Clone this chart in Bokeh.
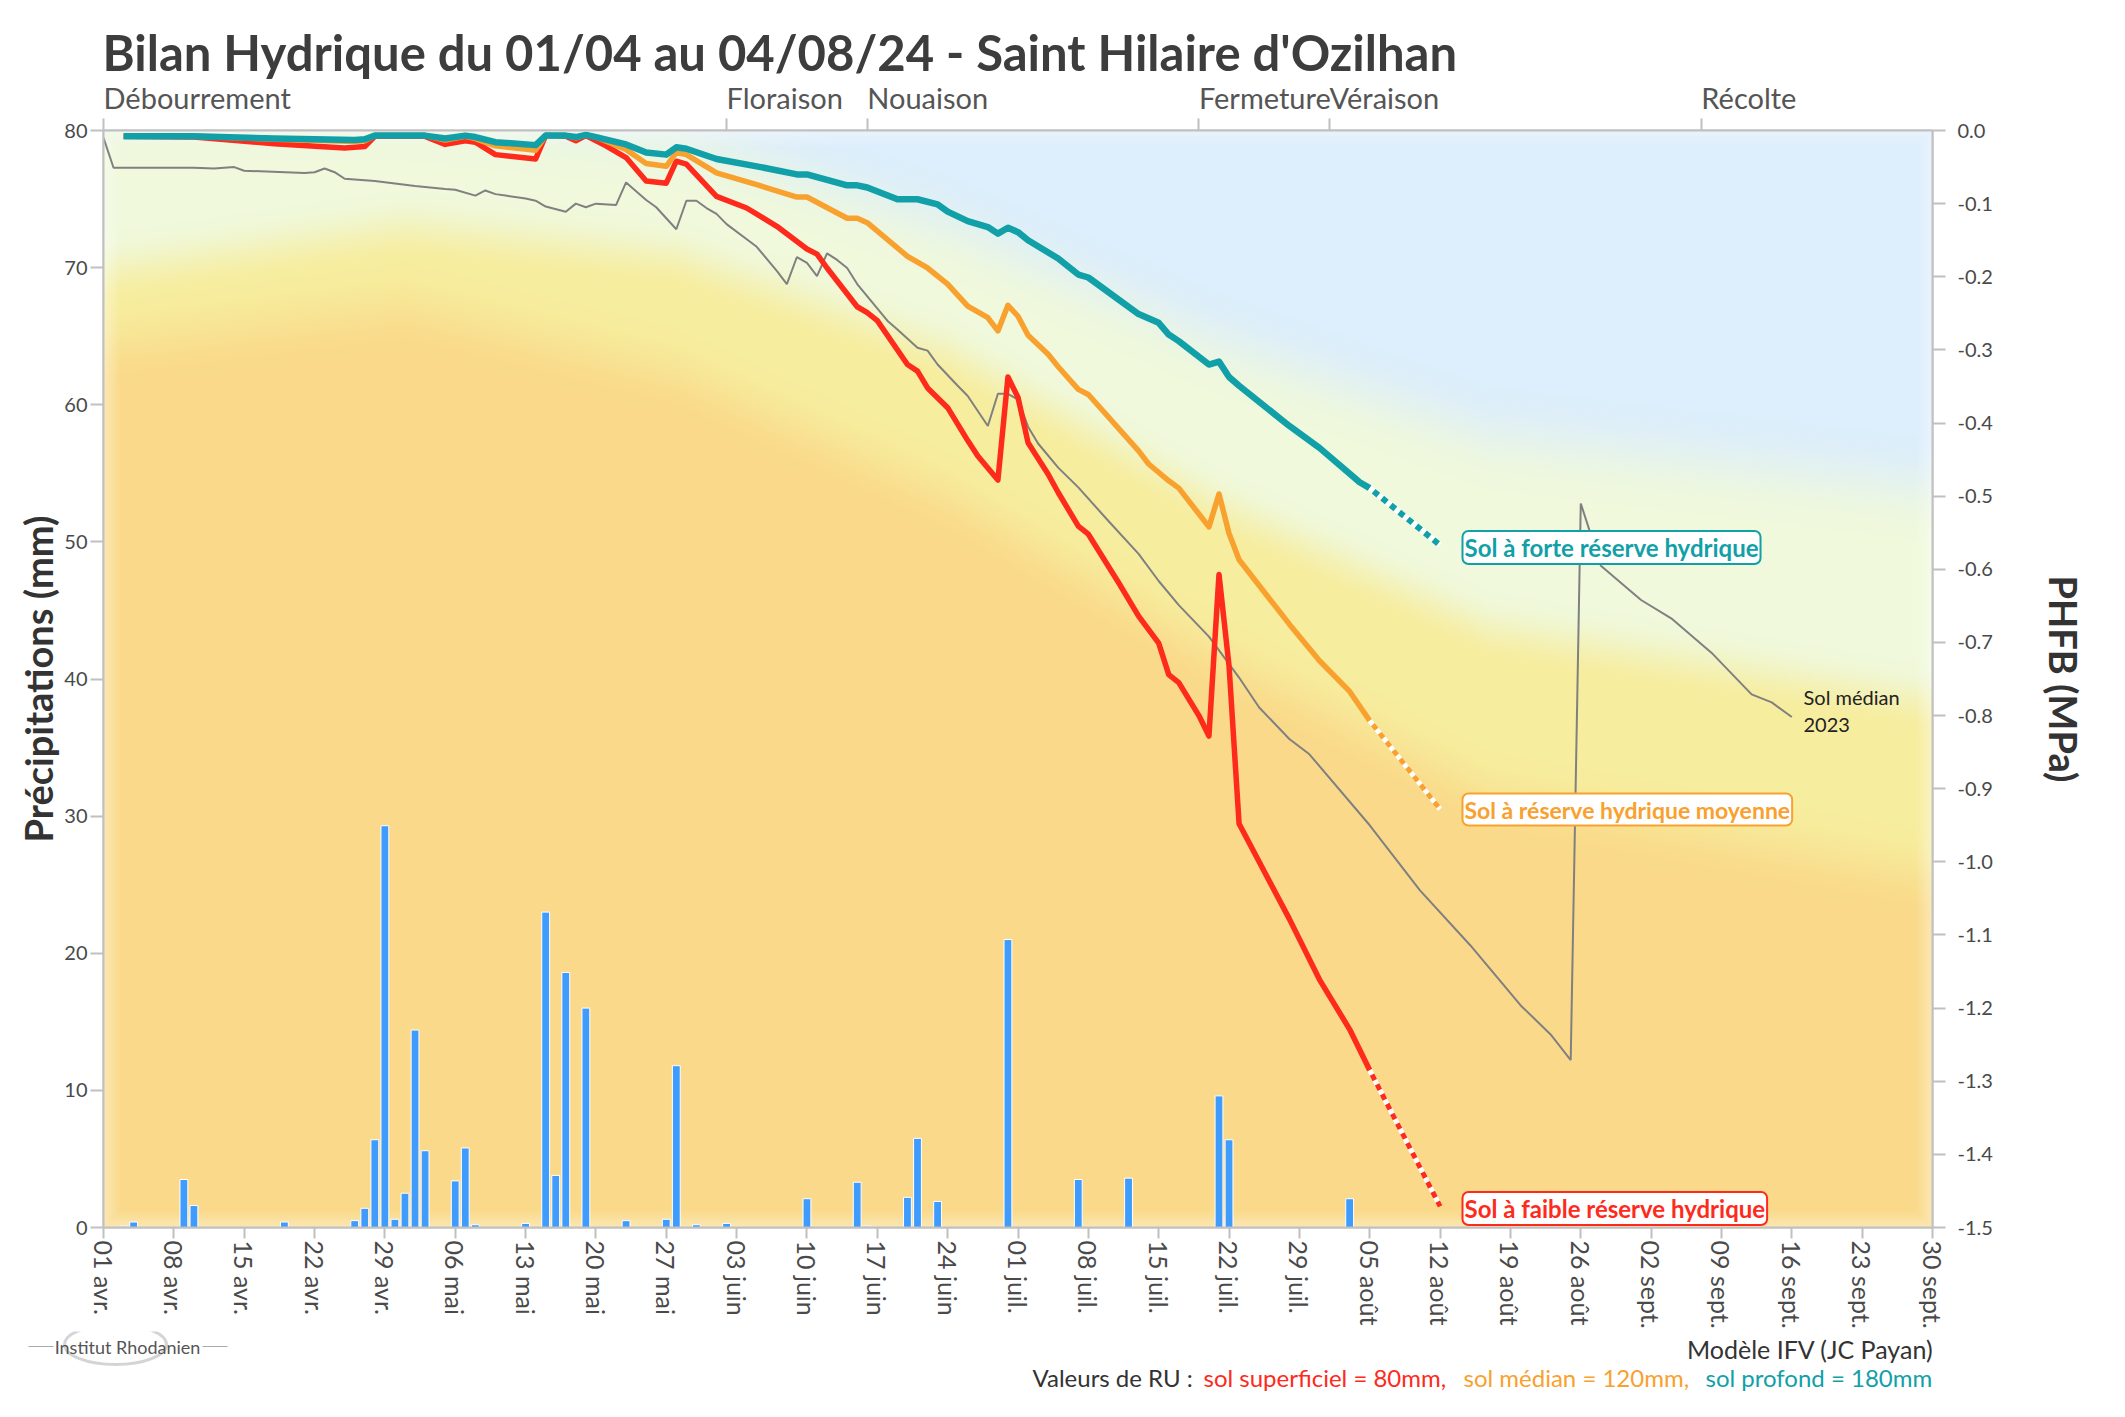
import numpy as np
from bokeh.plotting import figure
from bokeh.layouts import column
from bokeh.core.properties import value
from bokeh.models import (Range1d, LinearAxis, FixedTicker, PrintfTickFormatter, Label)
from bokeh.embed import file_html
from bokeh.resources import INLINE

# days are counted from 1 April 2024 (day 0)
tick_days = list(range(0, 183, 7))
tick_labels = ["01 avr.", "08 avr.", "15 avr.", "22 avr.", "29 avr.", "06 mai", "13 mai",
               "20 mai", "27 mai", "03 juin", "10 juin", "17 juin", "24 juin", "01 juil.",
               "08 juil.", "15 juil.", "22 juil.", "29 juil.", "05 août", "12 août",
               "19 août", "26 août", "02 sept.", "09 sept.", "16 sept.", "23 sept.", "30 sept."]

phase_names = ["Débourrement", "Floraison", "Nouaison", "Fermeture", "Véraison", "Récolte"]
phase_days = [0, 62, 76, 109, 122, 159]

# daily rain (mm)
rain_day = [2, 3, 8, 9, 18, 25, 26, 27, 28, 29, 30, 31, 32, 35, 36, 37, 42, 44, 45, 46,
            48, 52, 56, 57, 59, 62, 70, 75, 76, 80, 81, 83, 90, 97, 102, 111, 112, 124]
rain_mm = [0.1, 0.4, 3.5, 1.6, 0.4, 0.5, 1.4, 6.4, 29.3, 0.6, 2.5, 14.4, 5.6, 3.4, 5.8, 0.2,
           0.3, 23.0, 3.8, 18.6, 16.0, 0.5, 0.6, 11.8, 0.2, 0.3, 2.1, 3.3, 0.1, 2.2, 6.5,
           1.9, 21.0, 3.5, 3.6, 9.6, 6.4, 2.1]

# PHFB (MPa) - sol profond (180 mm)
forte_day = [2, 9, 17, 25, 26, 27, 32, 34, 36, 37, 39, 43, 44, 46, 47, 48, 49, 52, 54, 56,
             57, 58, 61, 65, 69, 70, 74, 75, 76, 79, 81, 83, 84, 86, 88, 89, 90, 91, 92, 95,
             97, 98, 103, 105, 106, 107, 110, 111, 112, 113, 118, 121, 125, 126]
forte_val = [-0.008, -0.008, -0.011, -0.013, -0.012, -0.007, -0.007, -0.011, -0.007, -0.009,
             -0.016, -0.020, -0.007, -0.007, -0.009, -0.006, -0.009, -0.019, -0.030, -0.033,
             -0.023, -0.025, -0.039, -0.049, -0.060, -0.060, -0.075, -0.075, -0.078, -0.094,
             -0.094, -0.101, -0.111, -0.124, -0.132, -0.141, -0.133, -0.139, -0.150, -0.175,
             -0.197, -0.201, -0.251, -0.263, -0.279, -0.288, -0.320, -0.316, -0.337, -0.349,
             -0.404, -0.434, -0.481, -0.489]
forte_forecast = -0.567

# sol médian (120 mm)
moy_day = [2, 9, 17, 25, 26, 27, 32, 34, 36, 37, 39, 43, 44, 46, 47, 48, 49, 52, 54, 56,
           57, 58, 61, 65, 69, 70, 74, 75, 76, 80, 82, 84, 86, 88, 89, 90, 91, 92, 94, 95,
           97, 98, 103, 104, 106, 107, 110, 111, 112, 113, 118, 121, 124, 126]
moy_val = [-0.008, -0.008, -0.012, -0.015, -0.014, -0.007, -0.007, -0.013, -0.008, -0.011,
           -0.021, -0.027, -0.007, -0.007, -0.010, -0.006, -0.009, -0.026, -0.045, -0.049,
           -0.030, -0.033, -0.058, -0.074, -0.091, -0.091, -0.120, -0.120, -0.126, -0.172,
           -0.188, -0.210, -0.240, -0.256, -0.274, -0.239, -0.254, -0.280, -0.306, -0.323,
           -0.354, -0.361, -0.438, -0.456, -0.479, -0.489, -0.542, -0.497, -0.551, -0.587,
           -0.675, -0.725, -0.767, -0.807]
moy_forecast = -0.928

# sol superficiel (80 mm)
faible_day = [2, 9, 17, 24, 26, 27, 32, 34, 36, 37, 39, 43, 44, 46, 47, 48, 50, 52, 54, 56,
              57, 58, 61, 64, 67, 70, 71, 72, 75, 76, 77, 80, 81, 82, 84, 86, 87, 89, 90, 91,
              92, 94, 95, 97, 98, 101, 103, 105, 106, 107, 109, 110, 111, 112, 113, 118, 121,
              124, 126]
faible_val = [-0.008, -0.009, -0.018, -0.024, -0.022, -0.008, -0.008, -0.019, -0.014, -0.016,
              -0.033, -0.039, -0.007, -0.008, -0.014, -0.007, -0.021, -0.037, -0.069, -0.072,
              -0.042, -0.046, -0.090, -0.106, -0.131, -0.162, -0.169, -0.188, -0.241, -0.249,
              -0.260, -0.320, -0.329, -0.352, -0.379, -0.424, -0.445, -0.478, -0.337, -0.365,
              -0.427, -0.470, -0.495, -0.541, -0.552, -0.618, -0.664, -0.701, -0.744, -0.755,
              -0.800, -0.828, -0.607, -0.732, -0.948, -1.078, -1.161, -1.229, -1.285]
faible_forecast = -1.471
forecast_day = 133

# sol médian, campagne 2023
median_day = [0, 1, 9, 11, 13, 14, 20, 21, 22, 23, 24, 27, 31, 34, 35, 37, 38, 39, 40, 42,
              43, 44, 46, 47, 48, 49, 51, 52, 54, 55, 57, 58, 59, 60, 61, 62, 65, 67, 68, 69,
              70, 71, 72, 73, 74, 75, 78, 79, 81, 82, 83, 85, 86, 88, 89, 90, 91, 92, 93, 95,
              97, 100, 103, 105, 107, 110, 113, 115, 118, 120, 126, 131, 136, 141, 144, 146,
              147, 149, 153, 156, 160, 164, 166, 168]
median_val = [-0.010, -0.051, -0.051, -0.052, -0.050, -0.055, -0.058, -0.057, -0.052, -0.057,
              -0.066, -0.069, -0.076, -0.080, -0.081, -0.089, -0.082, -0.087, -0.089, -0.093,
              -0.096, -0.104, -0.111, -0.100, -0.105, -0.100, -0.102, -0.071, -0.095, -0.105,
              -0.135, -0.096, -0.096, -0.106, -0.114, -0.128, -0.159, -0.192, -0.210, -0.173,
              -0.181, -0.199, -0.168, -0.177, -0.188, -0.210, -0.260, -0.272, -0.297, -0.301,
              -0.320, -0.349, -0.363, -0.404, -0.360, -0.360, -0.368, -0.405, -0.428, -0.461,
              -0.488, -0.534, -0.579, -0.616, -0.649, -0.692, -0.748, -0.789, -0.832, -0.853,
              -0.950, -1.039, -1.114, -1.196, -1.236, -1.271, -0.510, -0.595, -0.642, -0.667,
              -0.714, -0.771, -0.782, -0.802]

# stress zones in the background (upper PHFB limit of each zone, by date)
zone_day = [0, 30, 57, 84, 111, 138, 182]
zone_green = [0.03, 0.03, -0.01, -0.13, -0.29, -0.42, -0.49]
zone_yellow = [-0.19, -0.13, -0.17, -0.30, -0.51, -0.68, -0.78]
zone_orange = [-0.29, -0.24, -0.33, -0.50, -0.72, -0.91, -1.02]

TITLE = "Bilan Hydrique du 01/04 au 04/08/24 - Saint Hilaire d'Ozilhan"
TEAL = "#12a0a8"
ORANGE = "#f9a12e"
RED = "#fe2a1c"
FONT = "Lato"

W = 2117
FW, FH = 1829, 1097
LEFT = 103
HEAD_H = 116
TOP = 14
BOTTOM = 104
FOOT_H = 86


def background(nx=915, ny=549):
    days = np.linspace(0, 182, nx)
    v = np.linspace(-1.5, 0, ny)[:, None]
    cols = [np.array(c, float) for c in [(221, 238, 252), (240, 249, 220),
                                         (247, 237, 158), (250, 218, 138)]]

    def ramp(limit, w):
        b = np.interp(days, zone_day, limit)[None, :]
        t = np.clip(0.5 + (b - v) / w, 0, 1)
        return (t * t * (3 - 2 * t))[..., None]

    rgb = np.ones((ny, nx, 3)) * cols[0]
    rgb = rgb + (cols[1] - rgb) * ramp(zone_green, 0.14)
    rgb = rgb + (cols[2] - rgb) * ramp(zone_yellow, 0.10)
    rgb = rgb + (cols[3] - rgb) * ramp(zone_orange, 0.12)
    # soft fade near the frame edges
    ex = np.minimum(np.arange(nx), np.arange(nx)[::-1]) / 8.0
    ey = np.minimum(np.arange(ny), np.arange(ny)[::-1]) / 8.0
    edge = np.clip(np.minimum(ex[None, :], ey[:, None]), 0, 1)[..., None]
    rgb = rgb + (255 - rgb) * 0.35 * (1 - edge)
    img = np.empty((ny, nx), dtype=np.uint32)
    view = img.view(dtype=np.uint8).reshape((ny, nx, 4))
    view[:, :, :3] = np.clip(rgb, 0, 255).astype(np.uint8)
    view[:, :, 3] = 255
    return img


def strip(height):
    f = figure(width=W, height=height, x_range=Range1d(0, W), y_range=Range1d(height, 0),
               output_backend="svg", toolbar_location=None, min_border=0,
               x_axis_type=None, y_axis_type=None, outline_line_color=None,
               frame_align=False)
    f.grid.visible = False
    return f


# header: title and phenological stages
head = strip(HEAD_H)
head.text(x=[LEFT - 1], y=[51], text=[TITLE], text_font=value(FONT), text_font_style="bold",
          text_font_size="49px", text_color="#3d3d3d", text_baseline="middle")
head.text(x=[LEFT + d * FW / 182 for d in phase_days], y=[97] * len(phase_days),
          text=phase_names, text_font=value(FONT), text_font_size="29px",
          text_color="#555555", text_baseline="middle")

# main chart
p = figure(frame_width=FW, frame_height=FH, x_range=Range1d(0, 182), y_range=Range1d(0, 80),
           output_backend="svg", toolbar_location=None, frame_align=False,
           min_border_left=LEFT, min_border_right=W - LEFT - FW, min_border_top=TOP,
           min_border_bottom=BOTTOM, background_fill_color="white", border_fill_color="white")
p.extra_y_ranges = {"phfb": Range1d(-1.5, 0), "py": Range1d(FH, 0)}
p.extra_x_ranges = {"px": Range1d(0, FW)}
p.grid.visible = False
p.outline_line_color = "#c4c4c4"
p.outline_line_width = 2

p.image_rgba(image=[background()], x=0, y=0, dw=182, dh=80, level="image")

p.vbar(x=rain_day, top=rain_mm, width=0.78, fill_color="#3f9cfd", line_color="white",
       line_width=1)

p.line(median_day, median_val, y_range_name="phfb", color="#808080", line_width=2)

for days, vals, fc, col, w in [(faible_day, faible_val, faible_forecast, RED, 5.5),
                               (moy_day, moy_val, moy_forecast, ORANGE, 5.5),
                               (forte_day, forte_val, forte_forecast, TEAL, 6.5)]:
    p.line(days, vals, y_range_name="phfb", color=col, line_width=w, line_join="round")
    p.line([days[-1], forecast_day], [vals[-1], fc], y_range_name="phfb", color="white",
           line_width=w - 0.5)
    p.line([days[-1], forecast_day], [vals[-1], fc], y_range_name="phfb", color=col,
           line_width=w - 0.5, line_dash="6 5", line_dash_offset=6)

xa = p.xaxis[0]
xa.ticker = FixedTicker(ticks=tick_days)
xa.major_label_overrides = {d: t for d, t in zip(tick_days, tick_labels)}
xa.major_label_orientation = "vertical"

ya = p.yaxis[0]
ya.ticker = FixedTicker(ticks=list(range(0, 81, 10)))
ya.axis_label = "Précipitations (mm)"

ra = LinearAxis(y_range_name="phfb", ticker=FixedTicker(ticks=[-i / 10 for i in range(16)]),
                formatter=PrintfTickFormatter(format="%.1f"), axis_label="PHFB (MPa)")
p.add_layout(ra, "right")

ta = LinearAxis(ticker=FixedTicker(ticks=phase_days), major_label_text_alpha=0)
p.add_layout(ta, "above")

for ax in [xa, ya, ra, ta]:
    ax.axis_line_color = "#c0c0c0"
    ax.axis_line_width = 2
    ax.major_tick_line_color = "#c0c0c0"
    ax.major_tick_line_width = 2
    ax.major_tick_in = 0
    ax.major_tick_out = 13
    ax.minor_tick_line_color = None
    ax.major_label_text_font = FONT
    ax.major_label_text_font_size = "20px"
    ax.major_label_text_color = "#4a4a4a"
    ax.axis_label_text_font = FONT
    ax.axis_label_text_font_size = "38px"
    ax.axis_label_text_font_style = "bold"
    ax.axis_label_text_color = "#333333"
ta.major_label_text_font_size = "1px"
ta.major_label_standoff = 0
ta.major_tick_out = 12
xa.major_tick_out = 11
xa.major_label_text_font_size = "25px"
xa.major_label_standoff = 2
ya.major_label_standoff = 3
ya.axis_label_standoff = 0
ra.major_label_standoff = 12
ra.axis_label_standoff = 45


def px_label(text, x, y, size, color, style="normal", **kw):
    p.add_layout(Label(x=x, y=y, x_range_name="px", y_range_name="py", text=text,
                       text_font=FONT, text_font_size=size, text_color=color,
                       text_font_style=style, text_baseline="middle", **kw))


for text, y, col, size in [("Sol à forte réserve hydrique", 417, TEAL, "24px"),
                           ("Sol à réserve hydrique moyenne", 679, ORANGE, "23px"),
                           ("Sol à faible réserve hydrique", 1078, RED, "24px")]:
    px_label(text, 1359, y, size, col, style="bold", background_fill_color="white",
             border_line_color=col, border_line_width=2, padding=2, border_radius=6)

px_label("Sol médian", 1700, 566, "20px", "#222222")
px_label("2023", 1700, 594, "20px", "#222222")

# footer: model credit, RU values, logo
foot = strip(FOOT_H)
foot.text(x=[1933], y=[17], text=["Modèle IFV (JC Payan)"], text_font=value(FONT),
          text_font_size="25px", text_color="#333333", text_align="right",
          text_baseline="middle")
foot.text(x=[1032, 1203, 1463, 1705], y=[46] * 4,
          text=["Valeurs de RU :", "sol superficiel = 80mm,", "sol médian = 120mm,",
                "sol profond = 180mm"],
          text_color=["#333333", RED, ORANGE, TEAL], text_font=value(FONT),
          text_font_size="24px", text_baseline="middle")
foot.ellipse(x=[115], y=[13], width=[102], height=[40], fill_alpha=0, line_color="#b8b8b8",
             line_width=3, line_alpha=0.6)
foot.segment(x0=[28, 202], y0=[15, 15], x1=[53, 227], y1=[15, 15], line_color="#aaaaaa",
             line_width=1)
foot.text(x=[127], y=[15], text=["Institut Rhodanien"], text_font=value(FONT),
          text_font_size="18px", text_color="#555555", text_align="center",
          text_baseline="middle")

page = column(head, p, foot, spacing=0)
open("out.html", "w").write(file_html(page, INLINE))
